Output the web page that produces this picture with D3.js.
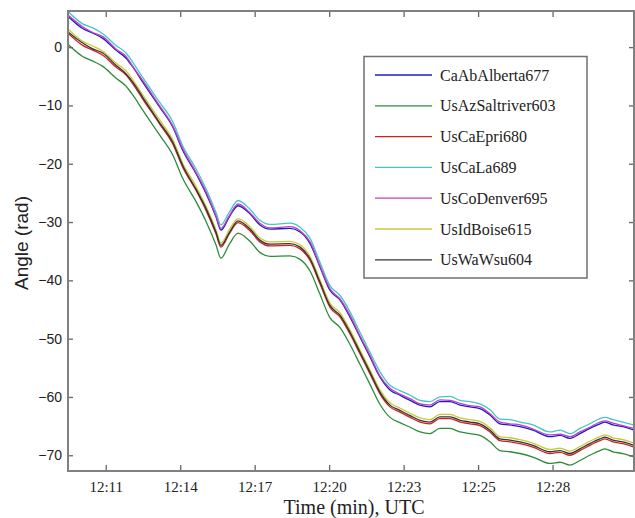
<!DOCTYPE html>
<html lang="en">
	<head>
		<meta charset="utf-8">
		<title>angle</title>
		<script type="text/javascript" src="https://cdn.jsdelivr.net/npm/d3@7"></script>
		<style>
			body{
				margin:0;
				background-color:white;
			}
			.ytick text, .ylabel{
				font-family:"Liberation Sans", Arial, sans-serif;
			}
			.xtick text, .xlabel, .legend text{
				font-family:"Liberation Serif", "Times New Roman", serif;
			}
		</style>
	</head>
	
	<body>
		<div id="chart"></div>

		<script type="text/javascript">
			
			// time in minutes after 12:00
			var times = [9.48, 10.07, 10.48, 10.88, 11.41, 11.82, 12.09, 12.49, 13.16, 13.70,
				14.10, 14.64, 15.04, 15.44, 15.64, 15.98, 16.33, 16.81, 17.21, 17.62,
				18.42, 18.83, 19.23, 19.63, 20.03, 20.44, 20.84, 21.24, 21.64, 22.05,
				22.45, 22.85, 23.26, 23.66, 24.06, 24.46, 24.87, 25.27, 25.67, 26.07,
				26.48, 26.88, 27.28, 27.69, 28.21, 28.89, 29.30, 29.70, 30.10, 30.50,
				30.91, 31.11, 31.43, 31.83, 32.28]
			
			var caAbAlberta677 = [5.3, 3.2, 2.4, 1.5, -0.5, -1.9, -3.4, -6.0, -10.2, -13.7,
				-17.7, -21.7, -25.1, -29.1, -31.4, -29.1, -27.2, -28.6, -30.5, -31.2,
				-31.1, -31.7, -33.7, -37.7, -41.7, -43.4, -46.3, -49.7, -53.1, -56.6,
				-58.8, -59.7, -60.6, -61.4, -61.7, -60.8, -60.8, -61.4, -61.7, -62.0,
				-63.1, -64.6, -64.8, -65.1, -65.7, -66.8, -66.6, -67.1, -66.3, -65.4,
				-64.6, -64.3, -64.8, -65.1, -65.7]
			var usAzSaltriver603 = [0.5, -1.6, -2.4, -3.3, -5.3, -6.7, -8.2, -10.8, -15.0, -18.5,
				-22.5, -26.5, -29.9, -33.9, -36.2, -33.8, -31.9, -33.3, -35.2, -35.9,
				-35.8, -36.4, -38.4, -42.4, -46.4, -48.1, -51.0, -54.4, -57.8, -61.3,
				-63.5, -64.4, -65.2, -66.0, -66.3, -65.4, -65.4, -66.0, -66.3, -66.6,
				-67.7, -69.2, -69.4, -69.7, -70.3, -71.4, -71.2, -71.7, -70.9, -70.0,
				-69.2, -68.9, -69.4, -69.7, -70.3]
			var usCaEpri680 = [2.4, 0.3, -0.5, -1.4, -3.4, -4.8, -6.3, -8.9, -13.1, -16.6,
				-20.6, -24.6, -28.0, -32.0, -34.3, -32.0, -30.1, -31.5, -33.4, -34.1,
				-34.0, -34.6, -36.6, -40.6, -44.6, -46.3, -49.2, -52.6, -56.0, -59.5,
				-61.7, -62.6, -63.5, -64.3, -64.6, -63.7, -63.7, -64.3, -64.6, -64.9,
				-66.0, -67.5, -67.7, -68.0, -68.6, -69.7, -69.5, -70.0, -69.2, -68.3,
				-67.5, -67.2, -67.7, -68.0, -68.6]
			var usCaLa689 = [6.1, 4.0, 3.3, 2.3, 0.3, -1.0, -2.6, -5.2, -9.4, -12.8,
				-16.9, -20.9, -24.3, -28.3, -30.5, -28.3, -26.3, -27.8, -29.7, -30.4,
				-30.2, -30.9, -32.8, -36.9, -40.9, -42.6, -45.4, -48.9, -52.3, -55.7,
				-58.0, -58.9, -59.7, -60.6, -60.8, -60.0, -59.9, -60.6, -60.8, -61.2,
				-62.2, -63.8, -63.9, -64.3, -64.8, -66.0, -65.7, -66.3, -65.4, -64.6,
				-63.7, -63.5, -63.9, -64.3, -64.8]
			var usCoDenver695 = [5.5, 3.5, 2.5, 1.8, -0.3, -1.6, -3.3, -5.7, -10.0, -13.5,
				-17.4, -21.5, -24.8, -28.9, -31.1, -28.9, -26.9, -28.4, -30.2, -31.0,
				-30.8, -31.5, -33.4, -37.5, -41.4, -43.2, -46.0, -49.5, -52.8, -56.4,
				-58.5, -59.5, -60.3, -61.2, -61.4, -60.5, -60.6, -61.1, -61.5, -61.7,
				-62.9, -64.3, -64.6, -64.8, -65.5, -66.5, -66.4, -66.8, -66.0, -65.2,
				-64.3, -64.1, -64.5, -64.9, -65.4]
			var usIdBoise615 = [3.1, 1.0, 0.2, -0.7, -2.7, -4.1, -5.6, -8.2, -12.4, -15.9,
				-19.9, -23.9, -27.3, -31.3, -33.6, -31.3, -29.4, -30.8, -32.7, -33.4,
				-33.3, -33.9, -35.9, -39.9, -43.9, -45.6, -48.5, -51.9, -55.3, -58.8,
				-61.0, -61.9, -62.8, -63.6, -63.9, -63.0, -63.0, -63.6, -63.9, -64.2,
				-65.3, -66.8, -67.0, -67.3, -67.9, -69.0, -68.8, -69.3, -68.5, -67.6,
				-66.8, -66.5, -67.0, -67.3, -67.9]
			var usWaWsu604 = [2.6, 0.7, -0.3, -1.0, -3.1, -4.6, -6.0, -8.6, -12.9, -16.3,
				-20.3, -24.4, -27.7, -31.7, -34.0, -31.8, -29.8, -31.2, -33.1, -33.8,
				-33.7, -34.3, -36.3, -40.3, -44.3, -46.0, -48.9, -52.3, -55.7, -59.2,
				-61.4, -62.3, -63.2, -64.0, -64.3, -63.4, -63.4, -64.0, -64.3, -64.6,
				-65.7, -67.2, -67.4, -67.7, -68.3, -69.4, -69.2, -69.7, -68.9, -68.0,
				-67.2, -66.9, -67.4, -67.7, -68.3]
			
			var names = ["CaAbAlberta677", "UsAzSaltriver603", "UsCaEpri680", "UsCaLa689",
				"UsCoDenver695", "UsIdBoise615", "UsWaWsu604"]
			var series = [caAbAlberta677, usAzSaltriver603, usCaEpri680, usCaLa689,
				usCoDenver695, usIdBoise615, usWaWsu604]
			var colors = ["#1c1cc8", "#2e8c3a", "#cc2424", "#44c6c6", "#c040c0", "#c8c83a", "#333333"]
			
			var xTicks = [11, 14, 17, 20, 23, 26, 29]
			var xTickLabels = ["12:11", "12:14", "12:17", "12:20", "12:23", "12:25", "12:28"]
			var yTicks = [0, -10, -20, -30, -40, -50, -60, -70]
			
			var w = 635
			var h = 518
			var plotLeft = 68
			var plotRight = 634
			var plotTop = 11
			var plotBottom = 471
			
			var xScale = d3.scaleLinear()
			.domain([9.48, 32.28])
			.range([plotLeft, plotRight])
			
			var yScale = d3.scaleLinear()
			.domain([-72.7, 6.2])
			.range([plotBottom, plotTop])
			
			var svg = d3.select("#chart").append("svg")
			.attr("width", w)
			.attr("height", h)
			
			svg.append("defs").append("clipPath")
			.attr("id", "plotclip")
			.append("rect")
			.attr("x", plotLeft)
			.attr("y", plotTop)
			.attr("width", plotRight - plotLeft)
			.attr("height", plotBottom - plotTop)
			
			// lines
			var line = d3.line()
			.x(function(d, i){ return xScale(times[i]) })
			.y(function(d){ return yScale(d) })
			.curve(d3.curveMonotoneX)
			
			svg.append("g")
			.attr("clip-path", "url(#plotclip)")
			.selectAll("path")
			.data(series)
			.enter()
			.append("path")
			.attr("d", line)
			.attr("fill", "none")
			.attr("stroke", function(d, i){ return colors[i] })
			.attr("stroke-width", 1.3)
			
			// axes, ticks pointing in
			var xAxis = d3.axisBottom(xScale)
			.tickValues(xTicks)
			.tickFormat(function(d, i){ return xTickLabels[i] })
			.tickSizeInner(-6)
			.tickSizeOuter(0)
			.tickPadding(10)
			
			var xTop = d3.axisTop(xScale)
			.tickValues(xTicks)
			.tickFormat("")
			.tickSizeInner(-6)
			.tickSizeOuter(0)
			
			var yAxis = d3.axisLeft(yScale)
			.tickValues(yTicks)
			.tickSizeInner(-5)
			.tickSizeOuter(0)
			.tickPadding(6)
			
			var yRight = d3.axisRight(yScale)
			.tickValues(yTicks)
			.tickFormat("")
			.tickSizeInner(-5)
			.tickSizeOuter(0)
			
			var gx = svg.append("g")
			.attr("class", "xtick")
			.attr("transform", "translate(0," + plotBottom + ")")
			.call(xAxis)
			
			svg.append("g")
			.attr("transform", "translate(0," + plotTop + ")")
			.call(xTop)
			
			var gy = svg.append("g")
			.attr("class", "ytick")
			.attr("transform", "translate(" + plotLeft + ",0)")
			.call(yAxis)
			
			svg.append("g")
			.attr("transform", "translate(" + plotRight + ",0)")
			.call(yRight)
			
			svg.selectAll(".domain").remove()
			svg.selectAll(".tick line")
			.attr("stroke", "#666666")
			.attr("stroke-width", 1.3)
			
			gx.selectAll("text")
			.attr("font-size", 15)
			.attr("fill", "#222222")
			
			gy.selectAll("text")
			.attr("font-size", 14)
			.attr("fill", "#222222")
			
			// box
			svg.append("rect")
			.attr("x", plotLeft)
			.attr("y", plotTop)
			.attr("width", plotRight - plotLeft)
			.attr("height", plotBottom - plotTop)
			.attr("fill", "none")
			.attr("stroke", "#808080")
			.attr("stroke-width", 2)
			
			// axis labels
			svg.append("text")
			.attr("class", "xlabel")
			.attr("x", 354)
			.attr("y", 514)
			.attr("text-anchor", "middle")
			.attr("font-size", 20)
			.attr("fill", "#222222")
			.text("Time (min), UTC")
			
			svg.append("text")
			.attr("class", "ylabel")
			.attr("transform", "translate(28,243) rotate(-90)")
			.attr("text-anchor", "middle")
			.attr("font-size", 19)
			.attr("fill", "#222222")
			.text("Angle (rad)")
			
			// legend
			var legend = svg.append("g")
			.attr("class", "legend")
			
			legend.append("rect")
			.attr("x", 364)
			.attr("y", 56.5)
			.attr("width", 223)
			.attr("height", 221.5)
			.attr("fill", "white")
			.attr("stroke", "#707070")
			.attr("stroke-width", 1.5)
			
			var items = legend.selectAll("g.item")
			.data(names)
			.enter()
			.append("g")
			.attr("class", "item")
			.attr("transform", function(d, i){
				return "translate(0," + (75 + i * 30.8) + ")"
			})
			
			items.append("line")
			.attr("x1", 375)
			.attr("x2", 432)
			.attr("y1", 0)
			.attr("y2", 0)
			.attr("stroke", function(d, i){ return colors[i] })
			.attr("stroke-width", 1.3)
			
			items.append("text")
			.attr("x", 440)
			.attr("y", 0)
			.attr("dy", "0.35em")
			.attr("font-size", 16)
			.attr("fill", "#222222")
			.text(function(d){ return d })
			
		</script>
	</body>
</html>
